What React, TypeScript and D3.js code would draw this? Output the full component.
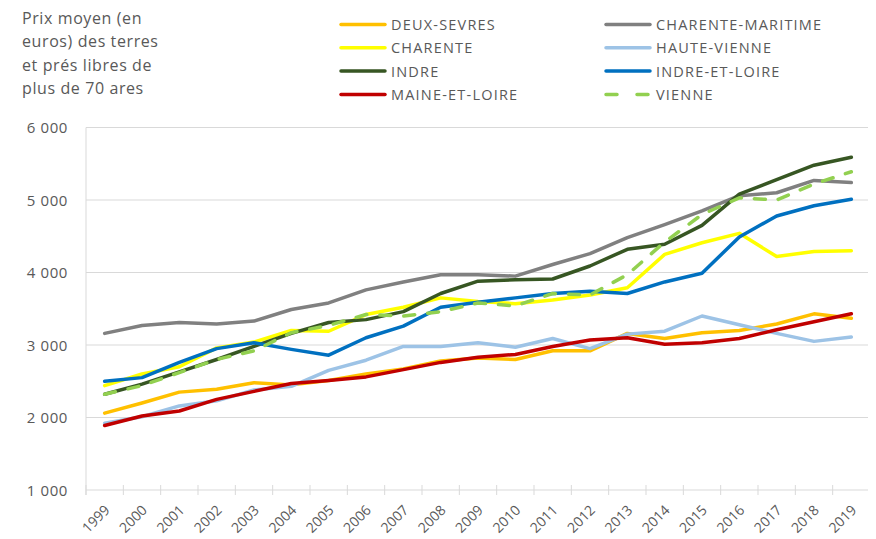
import React, { useEffect, useRef } from "react";
import * as d3 from "d3";

const years = [
  "1999", "2000", "2001", "2002", "2003", "2004", "2005", "2006", "2007", "2008",
  "2009", "2010", "2011", "2012", "2013", "2014", "2015", "2016", "2017", "2018", "2019",
];

const deuxSevres = [2060, 2200, 2350, 2390, 2480, 2450, 2510, 2600, 2670, 2780, 2820, 2800, 2920, 2920, 3160, 3090, 3170, 3200, 3290, 3430, 3370];
const charenteMaritime = [3160, 3270, 3310, 3290, 3330, 3490, 3580, 3760, 3870, 3970, 3970, 3950, 4110, 4260, 4480, 4660, 4850, 5060, 5100, 5270, 5240];
const charente = [2440, 2600, 2700, 2960, 3040, 3200, 3190, 3420, 3520, 3650, 3600, 3570, 3620, 3690, 3790, 4250, 4410, 4540, 4220, 4290, 4300];
const hauteVienne = [1920, 2010, 2160, 2230, 2380, 2430, 2650, 2790, 2980, 2980, 3030, 2970, 3090, 2950, 3150, 3190, 3400, 3280, 3160, 3050, 3110];
const indre = [2320, 2460, 2630, 2800, 2980, 3160, 3310, 3350, 3460, 3710, 3880, 3900, 3910, 4090, 4320, 4390, 4650, 5080, 5280, 5480, 5590];
const indreEtLoire = [2500, 2550, 2760, 2950, 3030, 2940, 2860, 3100, 3260, 3520, 3590, 3650, 3710, 3740, 3710, 3870, 3990, 4490, 4780, 4920, 5010];
const maineEtLoire = [1890, 2020, 2090, 2250, 2360, 2470, 2510, 2560, 2660, 2760, 2830, 2870, 2980, 3070, 3100, 3010, 3030, 3090, 3210, 3320, 3430];
const vienne = [2320, 2440, 2620, 2800, 2920, 3170, 3270, 3420, 3400, 3460, 3580, 3540, 3710, 3690, 3970, 4420, 4800, 5030, 5000, 5220, 5390];

const yTicks = [1000, 2000, 3000, 4000, 5000, 6000];
const titleLines = ["Prix moyen (en", "euros) des terres", "et prés libres de", "plus de 70 ares"];

const series = [
  { name: "DEUX-SEVRES", values: deuxSevres, color: "#FFC000", dashed: false },
  { name: "CHARENTE-MARITIME", values: charenteMaritime, color: "#808080", dashed: false },
  { name: "CHARENTE", values: charente, color: "#FFFF00", dashed: false },
  { name: "HAUTE-VIENNE", values: hauteVienne, color: "#9DC3E6", dashed: false },
  { name: "INDRE", values: indre, color: "#375623", dashed: false },
  { name: "INDRE-ET-LOIRE", values: indreEtLoire, color: "#0070C0", dashed: false },
  { name: "MAINE-ET-LOIRE", values: maineEtLoire, color: "#C00000", dashed: false },
  { name: "VIENNE", values: vienne, color: "#92D050", dashed: true },
];

const FONT = "'Open Sans', sans-serif";
const TEXT = "#595959";
const GRID = "#d9d9d9";

export default function App() {
  const ref = useRef<SVGSVGElement | null>(null);

  useEffect(() => {
    const width = 876;
    const height = 539;
    const left = 86;
    const right = 870;
    const top = 127.5;
    const bottom = 490;

    const svg = d3.select(ref.current);
    svg.selectAll("*").remove();
    svg.attr("width", width).attr("height", height);

    const x = d3.scaleBand<string>().domain(years).range([left, right]).padding(0);
    const y = d3.scaleLinear().domain([1000, 6000]).range([bottom, top]);
    const fmt = (v: number) => d3.format(",")(v).replace(/,/g, " ");

    // gridlines
    svg
      .append("g")
      .selectAll("line")
      .data(yTicks.filter((t) => t > 1000))
      .enter()
      .append("line")
      .attr("x1", left)
      .attr("x2", right + 4)
      .attr("y1", (d) => y(d))
      .attr("y2", (d) => y(d))
      .attr("stroke", GRID)
      .attr("stroke-width", 1);

    // y axis line
    svg
      .append("line")
      .attr("x1", left)
      .attr("x2", left)
      .attr("y1", top)
      .attr("y2", bottom + 5)
      .attr("stroke", GRID);

    // x axis
    const xAxis = svg.append("g");
    xAxis
      .append("line")
      .attr("x1", left)
      .attr("x2", right + 4)
      .attr("y1", bottom)
      .attr("y2", bottom)
      .attr("stroke", GRID);
    xAxis
      .selectAll(".tick")
      .data(years.concat(["end"]))
      .enter()
      .append("line")
      .attr("x1", (d, i) => left + i * x.bandwidth())
      .attr("x2", (d, i) => left + i * x.bandwidth())
      .attr("y1", bottom - 5)
      .attr("y2", bottom + 5)
      .attr("stroke", GRID);

    xAxis
      .selectAll("text")
      .data(years)
      .enter()
      .append("text")
      .attr("transform", (d) => `translate(${(x(d) as number) + x.bandwidth() / 2 + 6},${bottom + 21}) rotate(-45)`)
      .attr("text-anchor", "end")
      .attr("font-family", FONT)
      .attr("font-size", 14)
      .attr("fill", TEXT)
      .text((d) => d);

    // y tick labels
    svg
      .append("g")
      .selectAll("text")
      .data(yTicks)
      .enter()
      .append("text")
      .attr("x", 68)
      .attr("y", (d) => y(d) + 5.5)
      .attr("text-anchor", "end")
      .attr("font-family", FONT)
      .attr("font-size", 15)
      .attr("letter-spacing", 0.6)
      .attr("fill", TEXT)
      .text((d) => fmt(d));

    // lines
    const line = d3
      .line<number>()
      .x((d, i) => (x(years[i]) as number) + x.bandwidth() / 2)
      .y((d) => y(d));

    series.forEach((s) => {
      svg
        .append("path")
        .datum(s.values)
        .attr("d", line)
        .attr("fill", "none")
        .attr("stroke", s.color)
        .attr("stroke-width", 3.5)
        .attr("stroke-linejoin", "round")
        .attr("stroke-linecap", "round")
        .attr("stroke-dasharray", s.dashed ? "11 13" : null);
    });

    // title
    svg
      .append("g")
      .selectAll("text")
      .data(titleLines)
      .enter()
      .append("text")
      .attr("x", 22)
      .attr("y", (d, i) => 23.5 + i * 23.5)
      .attr("font-family", FONT)
      .attr("font-size", 16)
      .attr("letter-spacing", 0.6)
      .attr("fill", TEXT)
      .text((d) => d);

    // legend
    const legend = svg
      .append("g")
      .selectAll("g")
      .data(series)
      .enter()
      .append("g")
      .attr("transform", (d, i) => `translate(${i % 2 === 0 ? 341 : 606},${24.5 + Math.floor(i / 2) * 23.3})`);

    legend
      .append("line")
      .attr("x1", 0)
      .attr("x2", 44)
      .attr("y1", 0)
      .attr("y2", 0)
      .attr("stroke", (d) => d.color)
      .attr("stroke-width", 3.5)
      .attr("stroke-linecap", "round")
      .attr("stroke-dasharray", (d) => (d.dashed ? "11 20" : null));

    legend
      .append("text")
      .attr("x", 50)
      .attr("y", 5.5)
      .attr("font-family", FONT)
      .attr("font-size", 14.5)
      .attr("letter-spacing", 1.2)
      .attr("fill", TEXT)
      .text((d) => d.name);
  }, []);

  return (
    <div style={{ margin: -8 }}>
      <svg ref={ref}></svg>
    </div>
  );
}
